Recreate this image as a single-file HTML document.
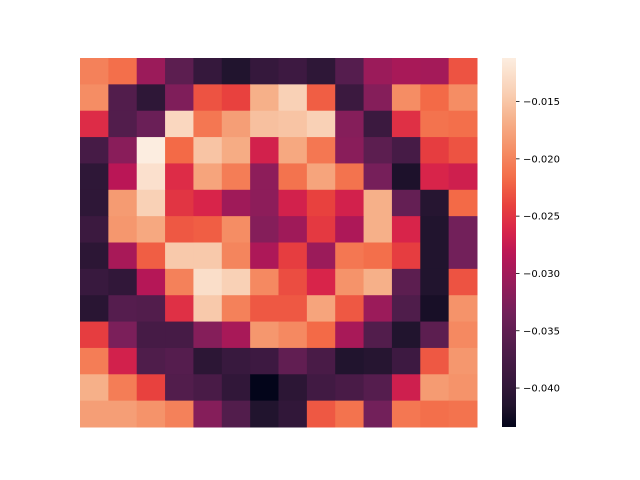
<!DOCTYPE html>
<html><head><meta charset="utf-8"><style>
html,body{margin:0;padding:0;background:#fff;}
svg{display:block;font-family:"DejaVu Sans","Liberation Sans",sans-serif;}
</style></head><body>
<svg id="chart" width="640" height="480" viewBox="0 0 640 480" xmlns="http://www.w3.org/2000/svg">
<defs><linearGradient id="cbgrad" x1="0" y1="1" x2="0" y2="0"></linearGradient></defs>
<g id="cells"></g>
<g id="cbar"></g>
</svg>
<script>
const row0=[-0.0202,-0.0215,-0.0305,-0.0354,-0.0395,-0.0415,-0.0395,-0.0386,-0.0402,-0.0360,-0.0305,-0.0296,-0.0299,-0.0231];
const row1=[-0.0193,-0.0363,-0.0402,-0.0325,-0.0231,-0.0241,-0.0167,-0.0141,-0.0225,-0.0389,-0.0321,-0.0193,-0.0218,-0.0193];
const row2=[-0.0257,-0.0363,-0.0341,-0.0135,-0.0209,-0.0180,-0.0154,-0.0151,-0.0141,-0.0321,-0.0389,-0.0254,-0.0212,-0.0215];
const row3=[-0.0376,-0.0318,-0.0112,-0.0218,-0.0151,-0.0170,-0.0267,-0.0173,-0.0209,-0.0318,-0.0354,-0.0376,-0.0244,-0.0231];
const row4=[-0.0402,-0.0283,-0.0125,-0.0257,-0.0176,-0.0205,-0.0315,-0.0212,-0.0176,-0.0212,-0.0331,-0.0418,-0.0263,-0.0270];
const row5=[-0.0402,-0.0183,-0.0141,-0.0250,-0.0263,-0.0302,-0.0315,-0.0267,-0.0241,-0.0267,-0.0167,-0.0347,-0.0411,-0.0218];
const row6=[-0.0389,-0.0186,-0.0173,-0.0228,-0.0225,-0.0193,-0.0321,-0.0302,-0.0247,-0.0292,-0.0167,-0.0263,-0.0415,-0.0334];
const row7=[-0.0405,-0.0296,-0.0225,-0.0147,-0.0147,-0.0199,-0.0292,-0.0244,-0.0305,-0.0209,-0.0215,-0.0244,-0.0415,-0.0334];
const row8=[-0.0392,-0.0399,-0.0286,-0.0202,-0.0128,-0.0141,-0.0196,-0.0234,-0.0263,-0.0189,-0.0167,-0.0354,-0.0415,-0.0231];
const row9=[-0.0408,-0.0360,-0.0363,-0.0254,-0.0147,-0.0202,-0.0228,-0.0228,-0.0176,-0.0228,-0.0305,-0.0366,-0.0421,-0.0189];
const row10=[-0.0244,-0.0328,-0.0376,-0.0376,-0.0321,-0.0296,-0.0186,-0.0196,-0.0218,-0.0296,-0.0363,-0.0415,-0.0354,-0.0196];
const row11=[-0.0205,-0.0267,-0.0366,-0.0360,-0.0405,-0.0392,-0.0386,-0.0350,-0.0373,-0.0415,-0.0411,-0.0386,-0.0228,-0.0186];
const row12=[-0.0167,-0.0205,-0.0241,-0.0363,-0.0373,-0.0399,-0.0434,-0.0405,-0.0382,-0.0373,-0.0360,-0.0270,-0.0183,-0.0189];
const row13=[-0.0180,-0.0180,-0.0189,-0.0202,-0.0321,-0.0363,-0.0415,-0.0399,-0.0228,-0.0212,-0.0334,-0.0209,-0.0215,-0.0212];
const values=[row0,row1,row2,row3,row4,row5,row6,row7,row8,row9,row10,row11,row12,row13];
const vmin=-0.0434, vmax=-0.0112;
const tickValues=[-0.015,-0.020,-0.025,-0.030,-0.035,-0.040];
const tickLabels=["\u22120.015","\u22120.020","\u22120.025","\u22120.030","\u22120.035","\u22120.040"];

const stops=[[0,"#03051a"],[0.06,"#22142e"],[0.12,"#35183c"],[0.22,"#521d4c"],[0.31,"#72205a"],[0.4,"#9b1b5a"],[0.47,"#ba1656"],[0.53,"#d8244a"],[0.6,"#e8413e"],[0.67,"#f36a47"],[0.75,"#f58e65"],[0.83,"#f6b089"],[0.91,"#f9d1b6"],[1,"#fcede0"]];
function hex(h){return [1,3,5].map(i=>parseInt(h.substr(i,2),16));}
function cmap(v){
  let t=Math.max(0,Math.min(1,(v-vmin)/(vmax-vmin)));
  for(let i=1;i<stops.length;i++){
    if(t<=stops[i][0]){
      const a=stops[i-1],b=stops[i];const f=(t-a[0])/(b[0]-a[0]);
      const ca=hex(a[1]),cb=hex(b[1]);
      return "rgb("+ca.map((c,k)=>Math.round(c+(cb[k]-c)*f)).join(",")+")";
    }
  }
  return stops[stops.length-1][1];
}
const NS="http://www.w3.org/2000/svg";
const X0=80,X1=477,Y0=58,Y1=427;
const nR=values.length,nC=values[0].length;
const xScale=c=>X0+(X1-X0)*c/nC;
const yScale=r=>Y0+(Y1-Y0)*r/nR;
const cells=document.getElementById("cells");
values.forEach((row,r)=>row.forEach((v,c)=>{
  const el=document.createElementNS(NS,"rect");
  el.setAttribute("x",xScale(c));el.setAttribute("y",yScale(r));
  el.setAttribute("width",xScale(c+1)-xScale(c)+0.5);
  el.setAttribute("height",yScale(r+1)-yScale(r)+0.5);
  el.setAttribute("fill",cmap(v));
  
  
  cells.appendChild(el);
}));
// colorbar
const grad=document.getElementById("cbgrad");
for(let i=0;i<=50;i++){
  const t=i/50;const s=document.createElementNS(NS,"stop");
  s.setAttribute("offset",t);s.setAttribute("stop-color",cmap(vmin+t*(vmax-vmin)));
  grad.appendChild(s);
}
const cb=document.getElementById("cbar");
const CBX=502,CBW=14;
const cbY=v=>Y1-(v-vmin)/(vmax-vmin)*(Y1-Y0);
const bar=document.createElementNS(NS,"rect");
bar.setAttribute("x",CBX);bar.setAttribute("y",Y0);bar.setAttribute("width",CBW);bar.setAttribute("height",Y1-Y0);
bar.setAttribute("fill","url(#cbgrad)");


cb.appendChild(bar);
tickValues.forEach((v,i)=>{
  const y=cbY(v);
  const ln=document.createElementNS(NS,"line");
  ln.setAttribute("x1",CBX+CBW);ln.setAttribute("x2",CBX+CBW+3.5);ln.setAttribute("y1",y);ln.setAttribute("y2",y);
  ln.setAttribute("stroke","#000");ln.setAttribute("stroke-width","0.8");
  
  
  cb.appendChild(ln);
  const tx=document.createElementNS(NS,"text");
  tx.setAttribute("x",CBX+CBW+7);tx.setAttribute("y",y+3.6);tx.setAttribute("font-size","10");
  tx.textContent=tickLabels[i];
  
  
  cb.appendChild(tx);
});
</script>
</body></html>
